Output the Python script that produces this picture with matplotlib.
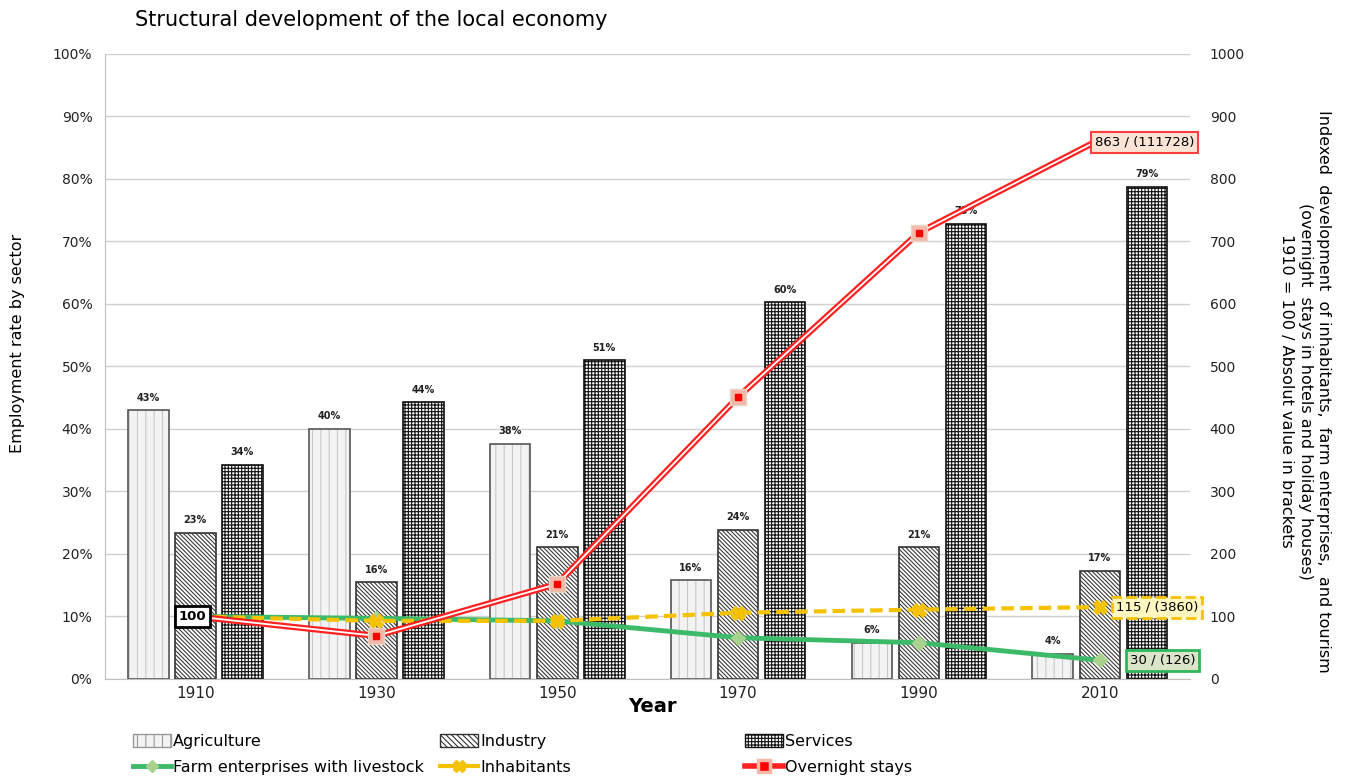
import matplotlib.pyplot as plt
from matplotlib.patches import Patch
from matplotlib.lines import Line2D
import numpy as np

plt.rcParams['font.family'] = ['DejaVu Sans']
plt.rcParams['hatch.linewidth'] = 0.8

## data
years = ['1910', '1930', '1950', '1970', '1990', '2010']
agriculture = [43.0, 40.0, 37.6, 15.8, 5.8, 4.0]
industry = [23.4, 15.5, 21.1, 23.9, 21.1, 17.3]
services = [34.3, 44.3, 51.0, 60.3, 72.8, 78.7]
farms = [100, 97, 93, 66, 58, 30]
inhabitants = [100, 93, 93, 106, 111, 115]
overnight = [100, 69, 152, 451, 714, 863]
end_labels = ['30 / (126)', '115 / (3860)', '863 / (111728)']

x = np.arange(len(years))
w = 0.225
off = 0.26

fig = plt.figure(figsize=(13.45, 7.8), dpi=100)
ax = fig.add_axes([0.078, 0.1295, 0.807, 0.8015])
ax2 = ax.twinx()

## bars: hatch layer + outline layer
styles = [  # (values, offset, face, hatch colour, hatch, outline)
    (agriculture, -off, '#f3f3f3', '#c8c8c8', '||', '#555555'),
    (industry, 0, '#ffffff', '#3a3a3a', '\\\\\\\\\\\\\\\\', '#333333'),
    (services, off, '#ffffff', '#111111', '+++++', '#111111'),
]
for vals, o, fc, hc, h, ec in styles:
    ax.bar(x + o, vals, w, color=fc, edgecolor=hc, hatch=h, lw=0)
    bars = ax.bar(x + o, vals, w, fill=False, edgecolor=ec, lw=1.2)
    for p, v in zip(bars, vals):
        ax.text(p.get_x() + p.get_width() / 2, v + 1.2, '%d%%' % round(v),
                ha='center', va='bottom', fontsize=7, fontweight='bold', color='#222222')

ax.set_ylim(0, 100)
ax.set_xlim(-0.5, 5.5)
ax.set_yticks(range(0, 101, 10))
ax.set_yticklabels(['%d%%' % v for v in range(0, 101, 10)])
ax.set_xticks(x)
ax.set_xticklabels(years)
ax.grid(axis='y', color='#d0d0d0', lw=1)
ax.set_axisbelow(True)
ax.tick_params(axis='y', length=0, labelsize=10, pad=9, labelcolor='#222222')
ax.tick_params(axis='x', length=0, labelsize=11, pad=5, labelcolor='#222222')
for s in ['top', 'right']:
    ax.spines[s].set_visible(False)
ax.spines['left'].set_color('#bfbfbf')
ax.spines['bottom'].set_color('#bfbfbf')

## lines
ax2.plot(x, farms, color='#3cba6a', lw=3.5, marker='D', ms=7, mfc='#a9d18e', mec='#a9d18e', zorder=3)
ax2.plot(x, inhabitants, color='#f5c200', lw=3, ls=(0, (3, 1.5)), marker='X', ms=10,
         mfc='#f5c200', mec='#f5c200', zorder=4)
ax2.plot(x, overnight, color='#ff2020', lw=4.5, zorder=5)
ax2.plot(x, overnight, color='white', lw=1.3, zorder=6)
ax2.plot(x, overnight, ls='none', marker='s', ms=11, mfc='#f4b8a8', mec='#e6d6c6', zorder=7)
ax2.plot(x, overnight, ls='none', marker='s', ms=5, mfc='#ff0000', mec='#ff0000', zorder=8)

ax2.set_ylim(0, 1000)
ax2.set_yticks(range(0, 1001, 100))
ax2.tick_params(length=0, labelsize=10, pad=14, labelcolor='#222222')
for s in ax2.spines.values():
    s.set_visible(False)

## annotations
ax2.annotate('100', (x[0], 100), xytext=(-2, 0), textcoords='offset points', ha='center', va='center',
             fontsize=9.5, fontweight='bold', zorder=10,
             bbox=dict(boxstyle='square,pad=0.3', fc='white', ec='black', lw=2))
ax2.annotate(end_labels[0], (x[5], farms[5]), xytext=(45, 0), textcoords='offset points',
             ha='center', va='center', fontsize=9.5, zorder=10,
             bbox=dict(boxstyle='square,pad=0.3', fc='#d9e4c8', ec='#2fb55a', lw=2))
ax2.annotate(end_labels[1], (x[5], inhabitants[5]), xytext=(41, 0), textcoords='offset points',
             ha='center', va='center', fontsize=9.5, zorder=10,
             bbox=dict(boxstyle='square,pad=0.3', fc='#fff6c0', ec='#f5c200', lw=2, ls='--'))
ax2.annotate(end_labels[2], (x[5], overnight[5]), xytext=(32, -2), textcoords='offset points',
             ha='center', va='center', fontsize=9.5, zorder=10,
             bbox=dict(boxstyle='square,pad=0.3', fc='#fbe4d5', ec='#ff4040', lw=1.5))

## titles and axis labels
fig.text(135 / 1345, 1 - 20 / 780, 'Structural development of the local economy', fontsize=15, va='center')
fig.text(18 / 1345, 1 - 343 / 780, 'Employment rate by sector', fontsize=11.5, rotation=90,
         ha='center', va='center')
fig.text(652 / 1345, 1 - 706 / 780, 'Year', fontsize=14, fontweight='bold', ha='center', va='center')
fig.text(1305 / 1345, 1 - 391 / 780,
         'Indexed  development  of inhabitants,  farm enterprises,  and tourism\n'
         '(overnight  stays in hotels and holiday houses)\n'
         '1910 = 100 / Absolut value in brackets',
         fontsize=11.5, rotation=-90, ha='center', va='center', multialignment='center', linespacing=1.3)

## legend, three fixed columns
cols = [
    (133, [Patch(fc='#f3f3f3', ec='#999999', hatch='||'),
           Line2D([], [], color='#3cba6a', lw=3.5, marker='D', ms=6, mfc='#a9d18e', mec='#a9d18e')],
     ['Agriculture', 'Farm enterprises with livestock']),
    (440, [Patch(fc='white', ec='#333333', hatch='\\\\\\\\\\\\'),
           Line2D([], [], color='#f5c200', lw=3, marker='X', ms=9, mfc='#f5c200', mec='#f5c200')],
     ['Industry', 'Inhabitants']),
    (745, [Patch(fc='white', ec='#111111', hatch='+++++'),
           Line2D([], [], color='#ff2020', lw=4, marker='s', ms=9, mfc='#ff0000', mec='#f4b8a8', mew=2.5)],
     ['Services', 'Overnight stays']),
]
for px, hs, ls_ in cols:
    fig.legend(hs, ls_, loc='upper left', bbox_to_anchor=(px / 1345, 1 - 734 / 780), frameon=False,
               fontsize=11.5, handlelength=2.4, handleheight=0.9, handletextpad=0.1, labelspacing=0.65,
               borderpad=0, borderaxespad=0)

fig.savefig('out.png', dpi=100)
